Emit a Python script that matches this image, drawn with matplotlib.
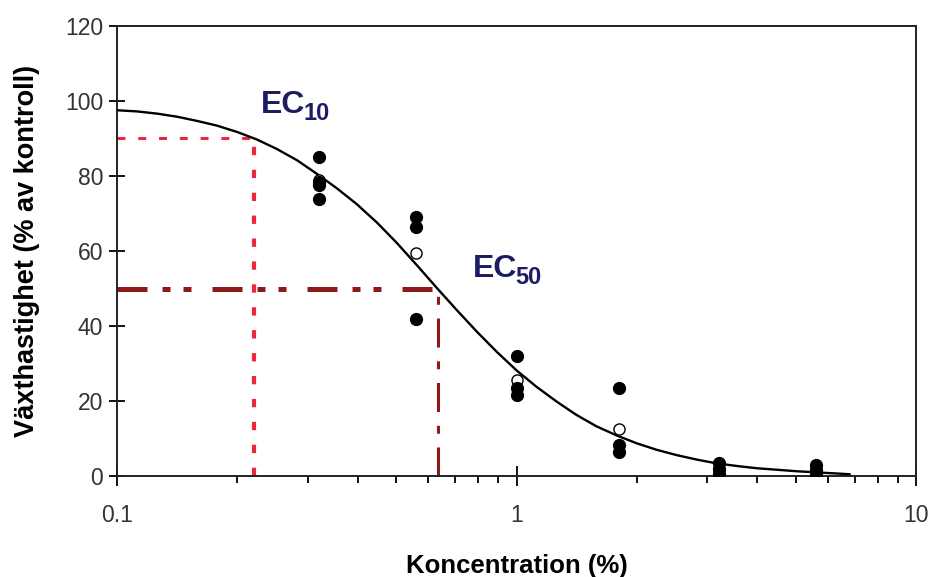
import matplotlib
matplotlib.use('Agg')
import matplotlib.pyplot as plt
from matplotlib.ticker import LogLocator, FixedLocator, NullFormatter, FixedFormatter

plt.rcParams['font.family'] = ['Liberation Sans', 'DejaVu Sans']

# replicate measurements per concentration (% of control growth rate)
conc = [0.32, 0.56, 1.0, 1.8, 3.2, 5.6]
reps = [
    [85, 78.5, 77.5, 74],
    [69, 66.5, 42],
    [32, 23.6, 21.6],
    [23.5, 8.3, 6.5],
    [3.5, 2.0, 0.6],
    [3.0, 1.6, 0.5],
]
means = [79, 59.6, 25.7, 12.7, 2.0, 1.7]

# fitted dose-response curve, read point by point
curve_x = [0.1, 0.112, 0.126, 0.141, 0.158, 0.178, 0.2, 0.224, 0.251, 0.282,
           0.316, 0.355, 0.398, 0.447, 0.501, 0.562, 0.631, 0.708, 0.794, 0.891,
           1.0, 1.12, 1.26, 1.41, 1.58, 1.78, 2.0, 2.24, 2.51, 2.82,
           3.16, 3.55, 3.98, 4.47, 5.01, 5.62, 6.31, 6.8]
curve_y = [97.5, 97.2, 96.6, 95.8, 94.7, 93.4, 91.7, 89.7, 87.2, 84.2,
           80.6, 76.7, 72.5, 67.6, 62.2, 56.3, 50.2, 44.3, 38.6, 33.2,
           28.2, 23.9, 19.9, 16.4, 13.4, 10.9, 8.8, 7.1, 5.7, 4.5,
           3.5, 2.8, 2.2, 1.8, 1.4, 1.1, 0.8, 0.6]

ec10, ec50 = 0.22, 0.634
yticks = [0, 20, 40, 60, 80, 100, 120]
xticks = [0.1, 1, 10]
xtick_labels = ['0.1', '1', '10']

fig = plt.figure(figsize=(9.33, 5.77), dpi=100)
ax = fig.add_axes([0.1254, 0.1742, 0.8569, 0.7812])

# EC10 and EC50 guide lines
ax.plot([0.1, ec10], [90, 90], color='#e8283c', lw=2.2, dashes=(2.6, 4.2),
        dash_capstyle='butt')
ax.plot([ec10, ec10], [0, 90], color='#e8283c', lw=3.0, dashes=(2.0, 3.5),
        dash_capstyle='butt')
ax.plot([0.1, ec50], [50, 50], color='#8c1a1a', lw=3.6,
        dashes=(6.0, 3.0, 1.6, 2.6, 1.6, 4.2), dash_capstyle='butt')
ax.plot([ec50, ec50], [0, 50], color='#8c1a1a', lw=2.2,
        dashes=(9.5, 4.5, 2.6, 4.5), dash_capstyle='butt')

ax.plot(curve_x, curve_y, color='black', lw=1.7, zorder=3)

# group means sit underneath the replicates
ax.plot(conc, means, 'o', mfc='white', mec='black', mew=1.0, ms=8, zorder=4)
for c, vals in zip(conc, reps):
    ax.plot([c] * len(vals), vals, 'o', color='black', ms=8.5, zorder=5)

# labels for the effect concentrations
lab_col = '#1c1c64'
for xx, yy, sub in [(0.2286, 96.8, '10'), (0.776, 53.1, '50')]:
    ax.text(xx, yy, 'EC', color=lab_col, fontsize=23, fontweight='bold',
            ha='left', va='baseline')
    ax.annotate(sub, (xx, yy), xytext=(43, -7), textcoords='offset pixels',
                color=lab_col, fontsize=17, fontweight='bold',
                family=['Liberation Sans Narrow', 'Liberation Sans'],
                ha='left', va='baseline')

ax.set_xscale('log')
ax.set_xlim(0.1, 10)
ax.set_ylim(0, 120)
ax.xaxis.set_major_locator(FixedLocator(xticks))
ax.xaxis.set_major_formatter(FixedFormatter(xtick_labels))
ax.xaxis.set_minor_locator(LogLocator(base=10, subs=range(2, 10)))
ax.xaxis.set_minor_formatter(NullFormatter())
ax.set_yticks(yticks)

for s in ax.spines.values():
    s.set_linewidth(1.4)
    s.set_color('#222222')
ax.tick_params(axis='y', which='major', direction='inout', length=12, width=1.3,
               labelsize=16.5, labelcolor='#333333', pad=4)
ax.tick_params(axis='x', which='major', direction='inout', length=14, width=1.3,
               labelsize=16.5, labelcolor='#333333', pad=13)
ax.tick_params(axis='x', which='minor', direction='out', length=5, width=1.3)

ax.set_xlabel('Koncentration (%)', fontsize=18.5, fontweight='bold', labelpad=19)
ax.set_ylabel('Växthastighet (% av kontroll)', fontsize=19.5, fontweight='bold',
              labelpad=18)

fig.savefig('out.png', dpi=100)
